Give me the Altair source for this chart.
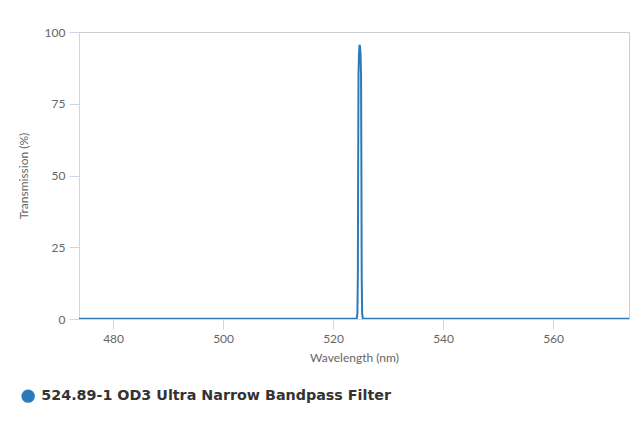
import altair as alt
import pandas as pd

wavelength = [473.8, 500.0, 524.30, 524.42, 524.50, 524.56, 524.62, 524.70, 524.80,
              524.90, 525.00, 525.08, 525.14, 525.20, 525.28, 525.40, 550.0, 573.8]
transmission = [0.1, 0.1, 0.2, 2.0, 15.0, 55.0, 85.0, 92.0, 95.5,
                95.0, 92.0, 85.0, 55.0, 15.0, 2.0, 0.2, 0.1, 0.1]
series_name = "524.89-1 OD3 Ultra Narrow Bandpass Filter"
x_ticks = [480, 500, 520, 540, 560]
y_ticks = [0, 25, 50, 75, 100]

df = pd.DataFrame({"Wavelength": wavelength, "Transmission": transmission,
                   "Series": [series_name] * len(wavelength)})

color = "#2b7bb9"
axis_common = dict(grid=False, domainColor="#ccd6eb", tickColor="#ccd6eb",
                   tickSize=10, labelFont="Lato", labelFontSize=12, labelColor="#666666",
                   titleFont="Lato", titleFontSize=12, titleColor="#666666",
                   titleFontWeight="normal")

chart = alt.Chart(df).mark_line(strokeWidth=2, clip=True).encode(
    x=alt.X("Wavelength:Q",
            scale=alt.Scale(domain=[473.8, 573.8], nice=False, zero=False),
            axis=alt.Axis(values=x_ticks, title="Wavelength (nm)", labelPadding=4,
                          titlePadding=8, **axis_common)),
    y=alt.Y("Transmission:Q",
            scale=alt.Scale(domain=[0, 100], nice=False),
            axis=alt.Axis(values=y_ticks, title="Transmission (%)", labelPadding=4,
                          titlePadding=14, **axis_common)),
    color=alt.Color("Series:N", scale=alt.Scale(range=[color]),
                    legend=alt.Legend(orient="none", legendX=-58, legendY=357, title=None,
                                      padding=0, symbolType="circle", symbolSize=180,
                                      symbolFillColor=color, symbolStrokeColor=color,
                                      symbolStrokeWidth=0, labelFont="DejaVu Sans",
                                      labelFontWeight="bold", labelFontSize=14.3,
                                      labelColor="#333333", labelOffset=6, labelLimit=0)),
).properties(
    width=550, height=287,
    autosize=alt.AutoSizeParams(type="none"),
    padding={"left": 71, "top": 24, "right": 3, "bottom": 100},
).configure_view(stroke="#cccccc", strokeWidth=1)

chart.save("out.html", embed_options={"renderer": "svg", "actions": False})
